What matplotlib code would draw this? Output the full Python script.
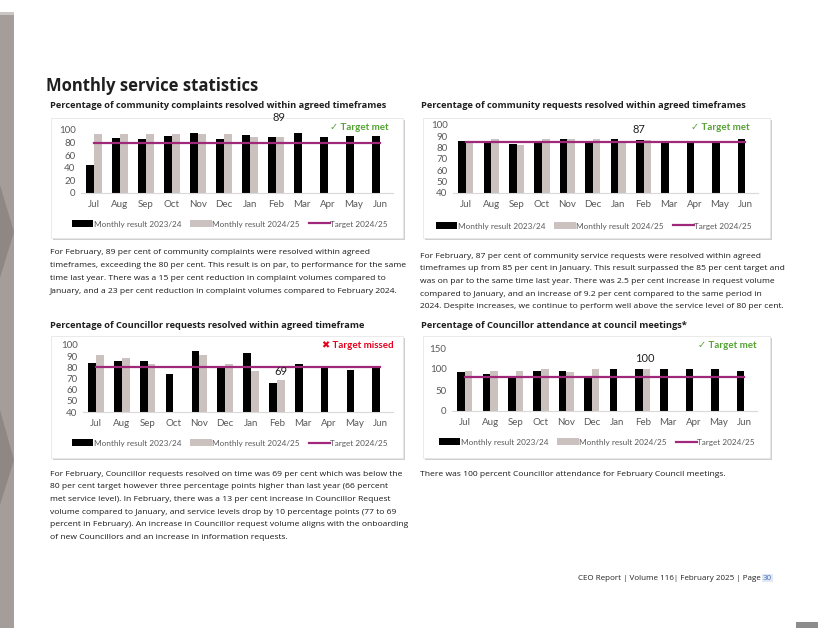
"""Monthly service statistics page: four Excel-style bar charts with commentary."""

import matplotlib.pyplot as plt
import numpy as np
from matplotlib.lines import Line2D
from matplotlib.patches import Patch, Polygon, Rectangle

W, H = 818, 628

months = ["Jul", "Aug", "Sep", "Oct", "Nov", "Dec", "Jan", "Feb", "Mar", "Apr", "May", "Jun"]

complaints_2324 = [44, 87, 86, 91, 95, 86, 92, 89, 95, 89, 91, 91]
complaints_2425 = [94, 93, 93, 94, 93, 94, 89, 89]
complaints_target = 80

requests_2324 = [86, 86, 83, 85, 88, 85, 88, 87, 86, 85, 86, 88]
requests_2425 = [86, 88, 82, 88, 88, 88, 85, 87]
requests_target = 85

councillor_2324 = [84, 86, 86, 74, 95, 80, 93, 66, 83, 81, 78, 80]
councillor_2425 = [91, 88, 83, np.nan, 91, 83, 77, 69]
councillor_target = 80

attendance_2324 = [92, 89, 80, 96, 95, 84, 100, 100, 100, 100, 100, 95]
attendance_2425 = [96, 96, 95, 100, 94, 100, np.nan, 100]
attendance_target = 80

legend_labels = ["Monthly result 2023/24", "Monthly result 2024/25", "Target 2024/25"]

GREY = "#cbc1be"
TARGET = "#a0287a"
GREEN = "#55a234"
RED = "#e3001b"
TICK = "#595959"
CHART_FONT = ["Lato", "DejaVu Sans"]
PAGE_FONT = ["Open Sans", "DejaVu Sans"]

fig = plt.figure(figsize=(W / 100, H / 100), dpi=100)


def fx(x):
    return x / W


def fy(y):
    return 1 - y / H


def rect(x0, y0, x1, y1, **kw):
    fig.patches.append(Rectangle((fx(x0), fy(y1)), (x1 - x0) / W, (y1 - y0) / H,
                                 transform=fig.transFigure, zorder=-1, **kw))


def draw_chart(box, plot, ylim, yticks, prev, cur, target, value_label, value_xy,
               status, status_color, status_xy, legend_xy):
    # card with a soft drop shadow
    x0, y0, x1, y1 = box
    rect(x0 + 2, y0 + 2, x1 + 2, y1 + 2, facecolor="#cfcfcf", edgecolor="none")
    rect(x0, y0, x1, y1, facecolor="white", edgecolor="#e6e6e6", lw=0.6)

    px0, py0, px1, py1 = plot
    ax = fig.add_axes([fx(px0), fy(py1), (px1 - px0) / W, (py1 - py0) / H])
    ax.set_zorder(2)
    ax.patch.set_alpha(0)
    x = np.arange(len(months))
    ax.bar(x - 0.15, prev, 0.3, color="black", zorder=2)
    ax.bar(np.arange(len(cur)) + 0.15, cur, 0.3, color=GREY, zorder=2)
    ax.plot(x, [target] * len(months), color=TARGET, lw=1.6, zorder=3)

    ax.set_xlim(-0.5, len(months) - 0.5)
    ax.set_ylim(*ylim)
    ax.set_yticks(yticks)
    ax.set_xticks(x)
    ax.set_xticklabels(months)
    for s in ["top", "right", "left"]:
        ax.spines[s].set_visible(False)
    ax.spines["bottom"].set_color("#d9d9d9")
    ax.spines["bottom"].set_linewidth(0.8)
    ax.tick_params(length=0, labelsize=7, labelcolor=TICK, pad=4)
    ax.tick_params(axis="x", pad=5)
    for t in ax.get_xticklabels() + ax.get_yticklabels():
        t.set_family(CHART_FONT)

    ax.text(value_xy[0], value_xy[1], value_label, ha="center", va="center",
            fontsize=8, color="#222222", family=CHART_FONT, clip_on=False)
    fig.text(fx(status_xy[0]), fy(status_xy[1]), status, ha="right", va="center",
             fontsize=7, fontweight="bold", color=status_color, family=CHART_FONT)

    handles = [Patch(facecolor="black"), Patch(facecolor=GREY),
               Line2D([], [], color=TARGET, lw=1.6)]
    leg = ax.legend(handles, legend_labels, loc="center", ncol=3, frameon=False,
                    bbox_to_anchor=(fx(legend_xy[0]), fy(legend_xy[1])),
                    bbox_transform=fig.transFigure, fontsize=5.9, handlelength=2.6,
                    handleheight=0.85, handletextpad=0.05, columnspacing=1.1,
                    borderpad=0, borderaxespad=0)
    for t in leg.get_texts():
        t.set_color(TICK)
        t.set_family(CHART_FONT)
    return ax


def paragraph(x, y, lines, pitch=12.7, size=6.1):
    for i, line in enumerate(lines):
        fig.text(fx(x), fy(y + i * pitch), line, ha="left", va="center",
                 fontsize=size, color="#1a1a1a", family=PAGE_FONT)


# left decorative band
rect(0, 13, 14, 628, facecolor="#a59d99", edgecolor="none")
rect(0, 12, 14, 15, facecolor="#cbc6c3", edgecolor="none")
for pts in [[(0, 185), (14, 232), (0, 278)], [(0, 410), (14, 460), (0, 505)]]:
    fig.patches.append(Polygon([(fx(a), fy(b)) for a, b in pts], closed=True,
                               transform=fig.transFigure, facecolor="#8f8784",
                               edgecolor="none", zorder=-1))
rect(796, 622, 818, 628, facecolor="#8c8c8c", edgecolor="none")

# headings
fig.text(fx(46), fy(86), "Monthly service statistics", ha="left", va="center",
         fontsize=12, fontweight="bold", color="#1f1f1f", family=PAGE_FONT)
subtitles = [
    (50, 105, "Percentage of community complaints resolved within agreed timeframes"),
    (421, 105, "Percentage of community requests resolved within agreed timeframes"),
    (50, 325, "Percentage of Councillor requests resolved within agreed timeframe"),
    (421, 325, "Percentage of Councillor attendance at council meetings*"),
]
for sx, sy, s in subtitles:
    fig.text(fx(sx), fy(sy), s, ha="left", va="center", fontsize=6.7,
             fontweight="bold", color="#1f1f1f", family=PAGE_FONT)

draw_chart((51, 118, 403, 238), (81, 130, 393, 193), (0, 100), range(0, 101, 20),
           complaints_2324, complaints_2425, complaints_target, "89", (7.1, 120),
           "\u2713 Target met", GREEN, (389, 127), (230, 224))
draw_chart((423, 118, 770, 238), (453, 125, 758, 193), (40, 100), range(40, 101, 10),
           requests_2324, requests_2425, requests_target, "87", (6.8, 95.6),
           "\u2713 Target met", GREEN, (750, 127), (594, 226))
draw_chart((51, 336, 403, 458), (83, 345, 393, 412), (40, 100), range(40, 101, 10),
           councillor_2324, councillor_2425, councillor_target, "69", (7.15, 76.7),
           "\u2716 Target missed", RED, (394, 346), (230, 443))
draw_chart((423, 336, 770, 458), (452, 348, 757, 411), (0, 150), range(0, 151, 50),
           attendance_2324, attendance_2425, attendance_target, "100", (7.1, 124),
           "\u2713 Target met", GREEN, (757, 346), (597, 442))

paragraph(50, 253, [
    "For February, 89 per cent of community complaints were resolved within agreed",
    "timeframes, exceeding the 80 per cent. This result is on par, to performance for the same",
    "time last year. There was a 15 per cent reduction in complaint volumes compared to",
    "January, and a 23 per cent reduction in complaint volumes compared to February 2024.",
])
paragraph(420, 256, [
    "For February, 87 per cent of community service requests were resolved within agreed",
    "timeframes up from 85 per cent in January. This result surpassed the 85 per cent target and",
    "was on par to the same time last year. There was 2.5 per cent increase in request volume",
    "compared to January, and an increase of 9.2 per cent compared to the same period in",
    "2024. Despite increases, we continue to perform well above the service level of 80 per cent.",
])
paragraph(50, 474, [
    "For February, Councillor requests resolved on time was 69 per cent which was below the",
    "80 per cent target however three percentage points higher than last year (66 percent",
    "met service level). In February, there was a 13 per cent increase in Councillor Request",
    "volume compared to January, and service levels drop by 10 percentage points (77 to 69",
    "percent in February). An increase in Councillor request volume aligns with the onboarding",
    "of new Councillors and an increase in information requests.",
])
paragraph(420, 474, [
    "There was 100 percent Councillor attendance for February Council meetings.",
])

# footer with highlighted page number
foot = fig.text(fx(578), fy(578), "CEO Report | Volume 116| February 2025 | Page ",
                ha="left", va="center", fontsize=5.8, color="#222222", family=PAGE_FONT)
fig.canvas.draw()
bb = foot.get_window_extent()
fig.text(bb.x1 / W, fy(578), "30", ha="left", va="center", fontsize=5.8,
         color="#4472c4", family=PAGE_FONT,
         bbox=dict(facecolor="#e3e8f1", edgecolor="none", pad=0.5))

fig.savefig("out.png", dpi=100)
